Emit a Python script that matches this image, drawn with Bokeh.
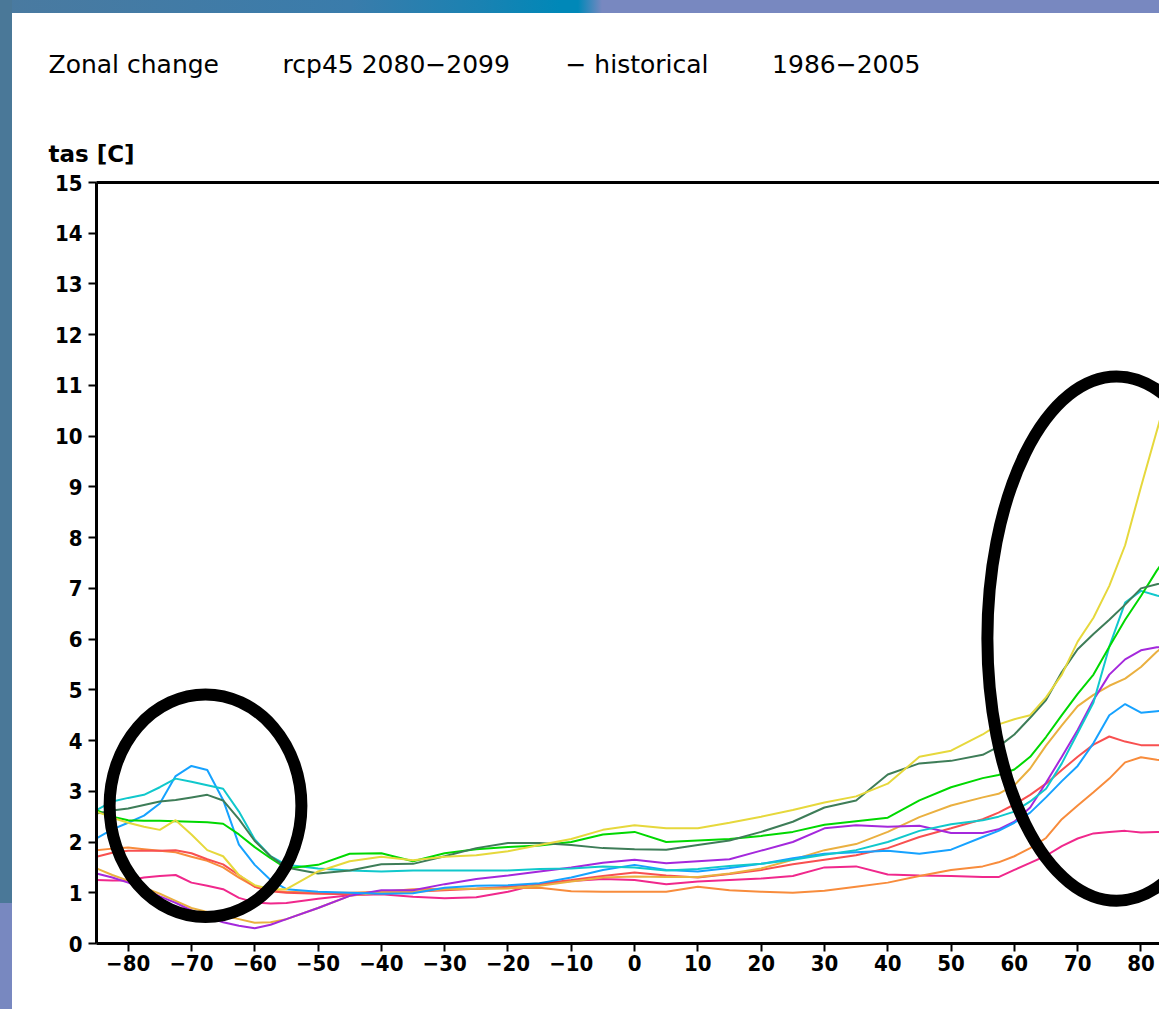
from bokeh.plotting import figure
from bokeh.models import Range1d, FixedTicker, LinearAxis, Title
from bokeh.embed import file_html
from bokeh.resources import INLINE

# ---------------- data ----------------
lat = [-85, -82.5, -80, -77.5, -75, -72.5, -70, -67.5, -65, -62.5, -60, -57.5, -55,
       -50, -45, -40, -35, -30, -25, -20, -15, -10, -5,
       0, 5, 10, 15, 20, 25, 30, 35, 40, 45, 50, 55,
       57.5, 60, 62.5, 65, 67.5, 70, 72.5, 75, 77.5, 80, 82.5, 85]

yellow = [2.60, 2.48, 2.38, 2.30, 2.24, 2.43, 2.15, 1.84, 1.72, 1.35, 1.15, 1.07, 1.07,
          1.42, 1.62, 1.71, 1.64, 1.71, 1.74, 1.82, 1.94, 2.06, 2.24,
          2.33, 2.27, 2.27, 2.38, 2.50, 2.63, 2.78, 2.90, 3.15, 3.68, 3.80, 4.12,
          4.32, 4.42, 4.50, 4.85, 5.30, 5.95, 6.42, 7.05, 7.85, 9.00, 10.10, 11.20]
dkgreen = [2.56, 2.62, 2.66, 2.73, 2.80, 2.83, 2.88, 2.93, 2.82, 2.45, 2.02, 1.72, 1.50,
           1.38, 1.44, 1.56, 1.57, 1.72, 1.88, 1.98, 1.98, 1.94, 1.88,
           1.86, 1.85, 1.94, 2.03, 2.20, 2.40, 2.68, 2.82, 3.33, 3.55, 3.60, 3.72,
           3.88, 4.12, 4.45, 4.80, 5.35, 5.80, 6.10, 6.38, 6.68, 7.00, 7.08, 7.15]
green = [2.63, 2.50, 2.43, 2.42, 2.42, 2.41, 2.40, 2.39, 2.36, 2.15, 1.90, 1.68, 1.48,
         1.55, 1.77, 1.78, 1.62, 1.78, 1.86, 1.90, 1.93, 2.00, 2.15,
         2.20, 2.00, 2.03, 2.06, 2.12, 2.20, 2.34, 2.41, 2.48, 2.82, 3.08, 3.26,
         3.32, 3.43, 3.68, 4.07, 4.50, 4.92, 5.30, 5.85, 6.38, 6.85, 7.35, 7.80]
cyan = [2.63, 2.80, 2.87, 2.93, 3.08, 3.25, 3.19, 3.12, 3.05, 2.60, 2.05, 1.72, 1.55,
        1.48, 1.44, 1.42, 1.44, 1.44, 1.44, 1.44, 1.47, 1.48, 1.52,
        1.50, 1.44, 1.47, 1.53, 1.57, 1.65, 1.75, 1.84, 2.00, 2.22, 2.35, 2.43,
        2.50, 2.60, 2.80, 3.05, 3.55, 4.15, 4.75, 5.85, 6.72, 6.95, 6.86, 6.80]
lblue = [2.07, 2.25, 2.38, 2.52, 2.76, 3.30, 3.50, 3.42, 2.83, 1.95, 1.55, 1.25, 1.07,
         1.02, 1.00, 0.98, 0.99, 1.10, 1.14, 1.15, 1.19, 1.30, 1.45,
         1.55, 1.45, 1.42, 1.49, 1.57, 1.68, 1.77, 1.80, 1.83, 1.77, 1.85, 2.10,
         2.22, 2.38, 2.58, 2.88, 3.20, 3.50, 3.95, 4.50, 4.72, 4.55, 4.58, 4.60]
purple = [1.38, 1.30, 1.20, 1.08, 0.93, 0.80, 0.65, 0.52, 0.42, 0.35, 0.30, 0.37, 0.48,
          0.70, 0.94, 1.05, 1.05, 1.17, 1.27, 1.34, 1.42, 1.50, 1.59,
          1.65, 1.58, 1.62, 1.66, 1.83, 2.00, 2.27, 2.33, 2.30, 2.32, 2.18, 2.18,
          2.25, 2.40, 2.68, 3.17, 3.68, 4.21, 4.80, 5.30, 5.60, 5.78, 5.84, 5.85]
gold = [1.48, 1.35, 1.24, 1.10, 0.98, 0.84, 0.70, 0.62, 0.55, 0.48, 0.41, 0.42, 0.48,
        0.70, 0.94, 1.01, 1.02, 1.07, 1.08, 1.09, 1.14, 1.22, 1.30,
        1.32, 1.31, 1.31, 1.38, 1.48, 1.65, 1.84, 1.96, 2.20, 2.49, 2.72, 2.88,
        2.95, 3.12, 3.45, 3.90, 4.30, 4.68, 4.90, 5.08, 5.22, 5.45, 5.75, 6.00]
red = [1.71, 1.79, 1.83, 1.83, 1.83, 1.84, 1.78, 1.66, 1.56, 1.35, 1.12, 1.03, 1.00,
       0.98, 0.97, 0.99, 1.02, 1.05, 1.08, 1.12, 1.18, 1.25, 1.33,
       1.40, 1.34, 1.30, 1.37, 1.45, 1.56, 1.65, 1.74, 1.88, 2.10, 2.27, 2.45,
       2.58, 2.74, 2.93, 3.15, 3.42, 3.68, 3.92, 4.08, 3.98, 3.91, 3.91, 3.90]
orange = [1.84, 1.87, 1.89, 1.86, 1.83, 1.80, 1.71, 1.63, 1.50, 1.30, 1.12, 1.04, 1.02,
          1.00, 1.00, 1.02, 1.07, 1.08, 1.08, 1.09, 1.10, 1.03, 1.02,
          1.02, 1.02, 1.12, 1.05, 1.02, 1.00, 1.04, 1.12, 1.20, 1.33, 1.45, 1.52,
          1.60, 1.72, 1.88, 2.08, 2.45, 2.72, 2.98, 3.25, 3.57, 3.67, 3.62, 3.60]
pink = [1.25, 1.24, 1.24, 1.30, 1.33, 1.35, 1.20, 1.14, 1.07, 0.90, 0.81, 0.79, 0.80,
        0.88, 0.95, 0.97, 0.92, 0.89, 0.91, 1.02, 1.17, 1.23, 1.27,
        1.25, 1.17, 1.22, 1.25, 1.28, 1.33, 1.50, 1.52, 1.36, 1.34, 1.33, 1.31,
        1.31, 1.45, 1.59, 1.73, 1.92, 2.07, 2.17, 2.20, 2.22, 2.19, 2.20, 2.20]

series = [("pink", pink), ("orange", orange), ("red", red), ("gold", gold),
          ("purple", purple), ("lblue", lblue), ("cyan", cyan), ("green", green),
          ("dkgreen", dkgreen), ("yellow", yellow)]

x_ticks = [-80, -70, -60, -50, -40, -30, -20, -10, 0, 10, 20, 30, 40, 50, 60, 70, 80]
y_ticks = list(range(0, 16))

NB = "\u00a0"
title_text = ("Zonal change" + NB * 8 + "rcp45 2080\u22122099" + NB * 7 + "\u2212" + NB
              + "historical" + NB * 8 + "1986\u22122005")
unit_label = "tas [C]"

# highlight ellipses (annotation marks): centre lat, centre value, width (deg), height (C)
ell_x = [-67.78, 76.14]
ell_y = [2.715, 6.01]
ell_w = [30.3, 40.8]
ell_h = [4.39, 10.34]

# ---------------- style ----------------
colors = {"pink": "#f0288c", "orange": "#f88c3c", "red": "#f85050", "gold": "#eab040",
          "purple": "#a428dc", "lblue": "#16a2ff", "cyan": "#10c8cc", "green": "#00d800",
          "dkgreen": "#3e7d58", "yellow": "#e6d83c"}
TICK_FONT = "DejaVu Sans Condensed"

# slide frame strips behind the (transparent) border area of the plot
page_bg = ("linear-gradient(to bottom, #4a7898 0px, #4a7898 903px, #7888c0 903px, #7888c0 100%) "
           "0 0 / 12px 100% no-repeat, "
           "linear-gradient(to right, #4a7aa0 0px, #3a7cab 350px, #1a82b2 480px, #0088b8 560px, "
           "#0088b8 578px, #7888c0 602px, #7888c0 100%) 0 0 / 100% 13px no-repeat, white")

p = figure(width=1159, height=1009, x_range=Range1d(-85, 82.93), y_range=Range1d(0, 15),
           output_backend="svg", toolbar_location=None,
           min_border_left=96, min_border_right=0, min_border_top=182, min_border_bottom=66)
p.outline_line_color = None
p.grid.visible = False
p.background_fill_color = "white"
p.border_fill_color = None
p.styles = {"background": page_bg}
p.title.text = ""

for name, vals in series:
    p.line(lat, vals, line_color=colors[name], line_width=2)

p.ellipse(x=ell_x, y=ell_y, width=ell_w, height=ell_h, fill_color=None,
          line_color="black", line_width=12)

xa = p.xaxis[0]
xa.ticker = FixedTicker(ticks=x_ticks)
xa.major_label_overrides = {t: (str(t).replace("-", "\u2212")) for t in x_ticks}
ya = p.yaxis[0]
ya.ticker = FixedTicker(ticks=y_ticks)
for ax in (xa, ya):
    ax.axis_line_width = 3
    ax.axis_line_color = "black"
    ax.major_tick_line_width = 2
    ax.major_tick_in = 0
    ax.major_tick_out = 8
    ax.minor_tick_line_color = None
    ax.major_label_text_font = TICK_FONT
    ax.major_label_text_font_style = "bold"
    ax.major_label_text_font_size = "22px"
    ax.major_label_text_color = "black"
ya.major_label_standoff = 6
xa.major_label_standoff = 3

top = LinearAxis(ticker=FixedTicker(ticks=[]), axis_line_width=3, axis_line_color="black",
                 major_tick_line_color=None, minor_tick_line_color=None,
                 major_tick_out=0, major_tick_in=0, major_label_standoff=0,
                 major_label_text_font_size="0px")
p.add_layout(top, "above")

p.add_layout(Title(text=unit_label, text_font="DejaVu Sans", text_font_style="bold",
                   text_font_size="23px", text_color="black", align="left",
                   offset=-48, standoff=32), "above")
p.add_layout(Title(text=title_text, text_font="DejaVu Sans", text_font_style="normal",
                   text_font_size="25px", text_color="black", align="left",
                   offset=-48, standoff=88), "above")

open("out.html", "w").write(file_html(p, INLINE))
